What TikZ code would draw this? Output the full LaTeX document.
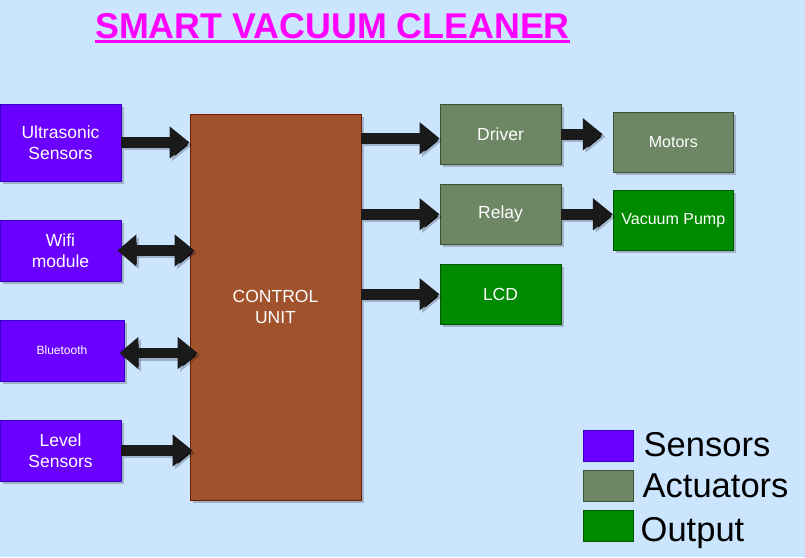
\documentclass[tikz,border=0pt]{standalone}
\usepackage{fontspec}
\setmainfont{Liberation Sans}
\usetikzlibrary{arrows.meta,calc,shadows}
\definecolor{bgc}{HTML}{CCE5FF}
\definecolor{senF}{HTML}{6A00FF}
\definecolor{senD}{HTML}{3700CC}
\definecolor{actF}{HTML}{6D8764}
\definecolor{actD}{HTML}{3A5431}
\definecolor{outF}{HTML}{008A00}
\definecolor{outD}{HTML}{005700}
\definecolor{cuF}{HTML}{A0522D}
\definecolor{cuD}{HTML}{6D1F00}
\definecolor{arrF}{HTML}{1A1A1A}
\definecolor{ttl}{HTML}{FF00FF}
\tikzset{
  box/.style={draw, line width=0.9pt, inner sep=0pt, text=white, align=center,
    font=\fontsize{17.5}{21.5}\selectfont,
    drop shadow={shadow xshift=3pt, shadow yshift=-3pt, fill=black, opacity=0.22}},
  sensor/.style={box, fill=senF, draw=senD},
  actuator/.style={box, fill=actF, draw=actD},
  outbox/.style={box, fill=outF, draw=outD},
  fat/.style={line width=10.5pt, draw=arrF, arrows={-Triangle[length=20pt,width=31pt]}},
  fatdbl/.style={arrows={Triangle[length=19pt,width=31pt]-Triangle[length=20pt,width=31pt]}},
  fatshadow/.style={draw=black, draw opacity=0.22, transform canvas={shift={(2.5pt,-2.5pt)}}},
  legsq/.style={draw, line width=0.9pt, minimum width=50pt, minimum height=31pt, inner sep=0pt},
  legtxt/.style={anchor=base west, inner sep=0pt, font=\fontsize{34.5}{38}\selectfont}
}
\newcommand{\flexarrow}[3][]{%
  \draw[fat,#1,fatshadow] #2 -- #3;
  \draw[fat,#1] #2 -- #3;}
\begin{document}
\begin{tikzpicture}[x=1pt,y=-1pt]
\useasboundingbox (0,0) rectangle (805,557);
\fill[bgc] (0,0) rectangle (805,557);
% title
\node[anchor=base west, inner sep=0pt, text=ttl, font=\bfseries\fontsize{35.8}{40}\selectfont] (title) at (95,38.3) {SMART VACUUM CLEANER};
\draw[ttl, line width=3pt] ($(title.base west)+(0,3.3)$) -- ($(title.base east)+(0,3.3)$);
% sensors
\node[sensor, minimum width=121pt, minimum height=77pt] (ult) at (60.5,142.5) {Ultrasonic\\Sensors};
\node[sensor, minimum width=121pt, minimum height=61pt] (wifi) at (60.5,250.5) {Wifi\\module};
\node[sensor, minimum width=124pt, minimum height=61pt, font=\fontsize{12}{14}\selectfont] (bt) at (62,350.5) {Bluetooth};
\node[sensor, minimum width=121pt, minimum height=61pt] (lvl) at (60.5,450.5) {Level\\Sensors};
% control unit
\node[box, fill=cuF, draw=cuD, minimum width=171pt, minimum height=386pt] (cu) at (275.5,307) {CONTROL\\UNIT};
% actuators / outputs
\node[actuator, minimum width=121pt, minimum height=60pt] (drv) at (500.5,134.3) {Driver};
\node[actuator, minimum width=120pt, minimum height=60pt, font=\fontsize{16}{19}\selectfont] (mot) at (673.3,142.3) {Motors};
\node[actuator, minimum width=121pt, minimum height=60pt] (rly) at (500.5,214.3) {Relay};
\node[outbox, minimum width=120pt, minimum height=60pt, font=\fontsize{16}{19}\selectfont] (pump) at (673.3,220.3) {Vacuum Pump};
\node[outbox, minimum width=121pt, minimum height=60pt] (lcd) at (500.5,294.3) {LCD};
% arrows left
\flexarrow{(ult.east)}{(ult.east -| cu.west)}
\flexarrow[fatdbl]{($(wifi.east)+(-4,0)$)}{($(wifi.east -| cu.west)+(5,0)$)}
\flexarrow[fatdbl]{($(bt.east)+(-5,2.5)$)}{($(bt.east -| cu.west)+(8,2.5)$)}
\flexarrow{(lvl.east)}{($(lvl.east -| cu.west)+(3,0)$)}
% arrows right
\coordinate (d1) at ($(drv.west)+(0,4)$);
\flexarrow{(cu.east |- d1)}{(d1)}
\flexarrow{(cu.east |- rly.west)}{(rly.west)}
\flexarrow{(cu.east |- lcd.west)}{(lcd.west)}
\coordinate (m1) at ($(mot.west |- drv.east)+(-10,0)$);
\flexarrow{(drv.east)}{(m1)}
\flexarrow{(rly.east)}{(rly.east -| pump.west)}
% legend
\node[legsq, fill=senF, draw=senD] (l1) at (608,445.5) {};
\node[legsq, fill=actF, draw=actD] (l2) at (608,485.5) {};
\node[legsq, fill=outF, draw=outD] (l3) at (608,525.5) {};
\node[legtxt] (t1) at (643.5,456.8) {Sensors};
\node[legtxt] (t2) at (642.5,497.3) {Actuators};
\node[legtxt] (t3) at (640.5,541.7) {Output};
\end{tikzpicture}
\end{document}
